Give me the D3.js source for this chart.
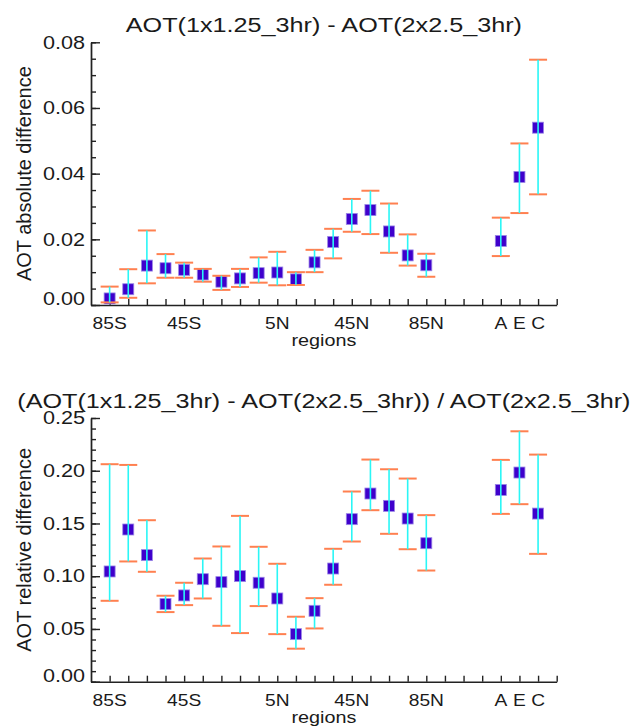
<!DOCTYPE html>
<html>
<head>
<meta charset="utf-8">
<script src="https://cdn.jsdelivr.net/npm/d3@7"></script>
<style>
  body { margin: 0; background: #fff; }
  text { font-family: "Liberation Sans", Arial, sans-serif; fill: #1a1a1a; }
</style>
</head>
<body>
<div id="chart"></div>
<script>
// regions: 18 latitude bands, then A, E, C
const regions = ["85S","75S","65S","55S","45S","35S","25S","15S","5S","5N",
  "15N","25N","35N","45N","55N","65N","75N","85N","A","E","C"]
const shownLabels = ["85S","45S","5N","45N","85N","A","E","C"]

// absolute difference
const absMean = [0.0020,0.0048,0.0120,0.0112,0.0107,0.0093,0.0071,0.0081,0.0097,0.0099,
  0.0078,0.0130,0.0192,0.0262,0.0289,0.0224,0.0151,0.0121,0.0195,0.0390,0.0540]
const absLow = [0.0008,0.0022,0.0066,0.0083,0.0083,0.0071,0.0046,0.0055,0.0068,0.0060,
  0.0061,0.0100,0.0142,0.0223,0.0216,0.0159,0.0120,0.0086,0.0149,0.0280,0.0337]
const absHigh = [0.0056,0.0109,0.0227,0.0155,0.0129,0.0110,0.0089,0.0110,0.0145,0.0162,
  0.0100,0.0168,0.0232,0.0323,0.0348,0.0309,0.0215,0.0156,0.0266,0.0492,0.0747]

// relative difference
const relMean = [0.1045,0.1443,0.1200,0.0736,0.0818,0.0972,0.0944,0.1001,0.0938,0.0789,
  0.0451,0.0672,0.1073,0.1541,0.1784,0.1667,0.1547,0.1313,0.1818,0.1983,0.1594]
const relLow = [0.0767,0.1140,0.1042,0.0660,0.0726,0.0789,0.0530,0.0461,0.0717,0.0451,
  0.0313,0.0505,0.0919,0.1329,0.1626,0.1402,0.1256,0.1054,0.1591,0.1683,0.1212]
const relHigh = [0.2062,0.2055,0.1531,0.0815,0.0938,0.1168,0.1282,0.1572,0.1279,0.1118,
  0.0616,0.0792,0.1260,0.1803,0.2106,0.2014,0.1926,0.1579,0.2103,0.2374,0.2153]

const WIDTH = 637, HEIGHT = 728
const SX = 1.2  // text in the original is drawn a bit wide

const svg = d3.select("#chart").append("svg")
  .attr("width", WIDTH)
  .attr("height", HEIGHT)

// band index -> slot on the x axis (gap of 3 before A E C)
const slot = i => i < 18 ? i + 1 : i + 4

const x = d3.scaleLinear().domain([0, 25]).range([91, 556.7])

const panels = [
  { title: "AOT(1x1.25_3hr) - AOT(2x2.5_3hr)", titleY: 31.7,
    ytitle: "AOT absolute difference", yMax: 0.08, major: 0.02, minor: 0.005,
    bottom: 305, top: 42.3, mean: absMean, low: absLow, high: absHigh },
  { title: "(AOT(1x1.25_3hr) - AOT(2x2.5_3hr)) / AOT(2x2.5_3hr)", titleY: 408,
    ytitle: "AOT relative difference", yMax: 0.25, major: 0.05, minor: 0.01,
    bottom: 681.7, top: 418, mean: relMean, low: relLow, high: relHigh }
]

function stretchText(sel, px, py, size, anchor, str) {
  return sel.append("text")
    .attr("transform", `translate(${px},${py}) scale(${SX},1)`)
    .attr("text-anchor", anchor)
    .style("font-size", size + "px")
    .text(str)
}

panels.forEach(p => {
  const y = d3.scaleLinear().domain([0, p.yMax]).range([p.bottom, p.top])
  const g = svg.append("g")

  // title
  stretchText(g, (x(0) + x(25)) / 2, p.titleY, 21, "middle", p.title)

  // y axis: minor ticks then major ticks with labels
  const nMinor = Math.round(p.yMax / p.minor)
  const nMajor = Math.round(p.yMax / p.major)
  g.append("g")
    .attr("transform", `translate(${x(0)},0)`)
    .call(d3.axisLeft(y)
      .tickValues(d3.range(nMinor + 1).map(i => i * p.minor))
      .tickSizeInner(-5).tickSizeOuter(0).tickFormat(""))
    .call(a => a.selectAll("line,path").attr("stroke", "#222").attr("stroke-width", 1.4))

  const yAxis = g.append("g")
    .attr("transform", `translate(${x(0)},0)`)
    .call(d3.axisLeft(y)
      .tickValues(d3.range(nMajor + 1).map(i => i * p.major))
      .tickSizeInner(-9).tickSizeOuter(0).tickPadding(5)
      .tickFormat(d3.format(".2f")))
  yAxis.selectAll("line,path").attr("stroke", "#222").attr("stroke-width", 1.4)
  yAxis.selectAll("text")
    .attr("transform", `scale(${SX},1)`)
    .attr("fill", "#1a1a1a")
    .style("font-size", "18px")
    .style("font-family", '"Liberation Sans", Arial, sans-serif')
    .attr("dy", d => d === 0 ? "-0.02em" : "0.32em")

  // y title
  g.append("text")
    .attr("transform", `translate(31,${(p.top + p.bottom) / 2}) rotate(-90)`)
    .attr("text-anchor", "middle")
    .style("font-size", "20px")
    .text(p.ytitle)

  // x axis
  const xAxis = g.append("g")
    .attr("transform", `translate(0,${p.bottom})`)
    .call(d3.axisBottom(x)
      .tickValues(d3.range(1, 26))
      .tickSizeInner(-6).tickSizeOuter(0).tickFormat(""))
  xAxis.selectAll("line,path").attr("stroke", "#222").attr("stroke-width", 1.4)

  shownLabels.forEach(lab => {
    const i = regions.indexOf(lab)
    stretchText(g, x(slot(i)), p.bottom + 24, 16, "middle", lab)
  })
  stretchText(g, (x(0) + x(25)) / 2, p.bottom + 41, 16.5, "middle", "regions")

  // markers
  g.selectAll(".mark").data(p.mean).join("rect")
    .attr("class", "mark")
    .attr("x", (d, i) => x(slot(i)) - 5.5)
    .attr("y", d => y(d) - 5.5)
    .attr("width", 11)
    .attr("height", 11)
    .attr("fill", "#3f00cc")
    .attr("stroke", "#9a86e6")
    .attr("stroke-width", 0.8)

  // caps
  const caps = p.low.map((v, i) => ({ i, v })).concat(p.high.map((v, i) => ({ i, v })))
  g.selectAll(".cap").data(caps).join("line")
    .attr("class", "cap")
    .attr("x1", d => x(slot(d.i)) - 9)
    .attr("x2", d => x(slot(d.i)) + 9)
    .attr("y1", d => y(d.v))
    .attr("y2", d => y(d.v))
    .attr("stroke", "#ff8050")
    .attr("stroke-width", 2)

  // error bars
  g.selectAll(".bar").data(p.mean).join("line")
    .attr("class", "bar")
    .attr("x1", (d, i) => x(slot(i)))
    .attr("x2", (d, i) => x(slot(i)))
    .attr("y1", (d, i) => y(p.low[i]))
    .attr("y2", (d, i) => y(p.high[i]))
    .attr("stroke", "#2af6f6")
    .attr("stroke-width", 1.6)
})
</script>
</body>
</html>
